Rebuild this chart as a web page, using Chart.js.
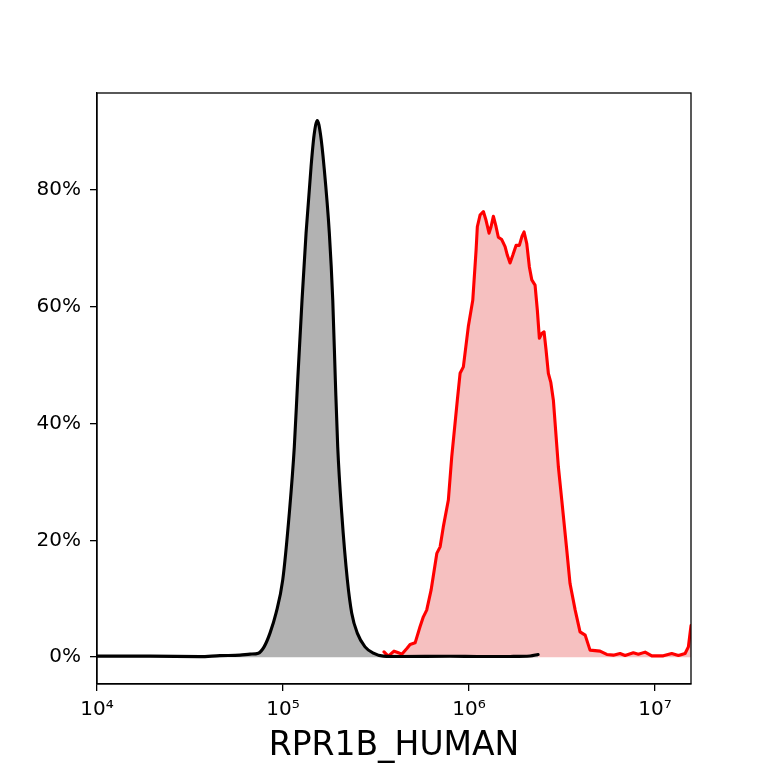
<!DOCTYPE html>
<html>
<head>
<meta charset="utf-8">
<script src="https://cdn.jsdelivr.net/npm/chart.js@4"></script>
<style>
  body { margin: 0; background: #fff; }
  #wrap { width: 768px; height: 768px; }
</style>
</head>
<body>
<div id="wrap"><canvas id="hist"></canvas></div>
<script>
// control (gray) histogram
var grayX = [1.0e4, 1.93e4, 3.58e4, 4.58e4, 5.87e4, 6.65e4, 7.37e4, 7.91e4, 8.51e4, 9.17e4,
  9.96e4, 1.081e5, 1.150e5, 1.199e5, 1.265e5, 1.330e5, 1.415e5, 1.469e5, 1.528e5, 1.592e5,
  1.661e5, 1.774e5, 1.851e5, 1.911e5, 1.968e5, 2.068e5, 2.218e5, 2.341e5, 2.508e5, 2.760e5,
  3.060e5, 3.462e5, 4.26e5, 7.90e5, 1.146e6, 1.661e6, 2.13e6, 2.35e6];
var grayY = [0.17, 0.17, 0.09, 0.26, 0.34, 0.51, 0.68, 1.76, 4.11, 7.53,
  13.18, 24.66, 36.0, 47.4, 61.1, 72.6, 84.0, 89.4, 91.9, 89.4,
  84.0, 72.6, 61.1, 47.4, 36.0, 24.66, 13.18, 7.53, 4.11, 1.76,
  0.68, 0.17, 0.1, 0.15, 0.1, 0.12, 0.2, 0.45];

// sample (red) histogram
var redX = [3.49e5, 3.68e5, 3.95e5, 4.17e5, 4.35e5, 4.63e5, 4.82e5, 5.13e5, 5.45e5, 5.68e5,
  5.92e5, 6.25e5, 6.71e5, 6.99e5, 7.27e5, 7.74e5, 8.07e5, 8.65e5, 8.95e5, 9.32e5,
  9.91e5, 1.047e6, 1.091e6, 1.108e6, 1.146e6, 1.194e6, 1.234e6, 1.281e6, 1.313e6, 1.351e6,
  1.397e6, 1.437e6, 1.499e6, 1.562e6, 1.607e6, 1.661e6, 1.718e6, 1.789e6, 1.864e6, 1.927e6,
  1.976e6, 2.043e6, 2.110e6, 2.174e6, 2.264e6, 2.329e6, 2.388e6, 2.460e6, 2.531e6, 2.594e6,
  2.669e6, 2.749e6, 2.840e6, 3.021e6, 3.151e6, 3.353e6, 3.49e6, 3.72e6, 3.95e6, 4.21e6,
  4.47e6, 5.06e6, 5.50e6, 5.97e6, 6.48e6, 6.90e6, 7.64e6, 8.13e6, 8.84e6, 9.60e6,
  1.108e7, 1.229e7, 1.335e7, 1.450e7, 1.510e7, 1.56e7];
var redY = [0.9, 0.17, 1.03, 0.74, 0.51, 1.49, 2.17, 2.45, 5.19, 6.9,
  8.05, 11.47, 17.76, 18.89, 22.3, 26.9, 34.3, 44.0, 48.6, 49.7,
  56.6, 61.1, 69.7, 73.7, 75.7, 76.3, 74.8, 72.6, 73.7, 75.5,
  73.7, 71.9, 71.5, 70.3, 68.8, 67.5, 68.8, 70.5, 70.5, 72.1,
  72.8, 70.8, 66.8, 64.6, 63.7, 59.4, 54.6, 55.4, 55.7, 52.6,
  48.6, 47.1, 44.0, 32.6, 26.9, 18.3, 12.6, 8.05, 4.33, 3.77,
  1.2, 1.03, 0.46, 0.34, 0.63, 0.29, 0.74, 0.51, 0.86, 0.22,
  0.22, 0.63, 0.29, 0.63, 1.76, 5.4];

var xTicks = [1e4, 1e5, 1e6, 1e7];
var yTicks = [0, 20, 40, 60, 80];
var xTitle = 'RPR1B_HUMAN';

var SUP = {'4': '\u2074', '5': '\u2075', '6': '\u2076', '7': '\u2077'};

function toPoints(xs, ys) {
  return xs.map(function(x, i) { return {x: x, y: ys[i]}; });
}

// box round the plot area, like a matplotlib frame
var frame = {
  id: 'frame',
  afterDatasetsDraw: function(chart) {
    var a = chart.chartArea, ctx = chart.ctx;
    ctx.save();
    ctx.strokeStyle = '#000';
    ctx.lineWidth = 1.3;
    ctx.strokeRect(a.left, a.top, a.right - a.left, a.bottom - a.top);
    ctx.restore();
  }
};

var font = 'DejaVu Sans';

new Chart(document.getElementById('hist'), {
  type: 'scatter',
  data: {
    datasets: [
      {
        label: 'control',
        data: toPoints(grayX, grayY),
        showLine: true,
        borderColor: '#000',
        borderWidth: 3.1,
        borderJoinStyle: 'round',
        borderCapStyle: 'round',
        backgroundColor: '#b2b2b2',
        fill: 'origin',
        pointRadius: 0,
        cubicInterpolationMode: 'monotone',
        order: 0
      },
      {
        label: 'sample',
        data: toPoints(redX, redY),
        showLine: true,
        borderColor: '#ff0000',
        borderWidth: 3.1,
        borderJoinStyle: 'round',
        borderCapStyle: 'round',
        backgroundColor: 'rgb(246,192,192)',
        fill: 'origin',
        pointRadius: 0,
        tension: 0,
        order: 1
      }
    ]
  },
  options: {
    responsive: true,
    maintainAspectRatio: false,
    animation: false,
    layout: { padding: { top: 93, right: 77, left: 0, bottom: 0 } },
    plugins: {
      legend: { display: false },
      tooltip: { enabled: false }
    },
    scales: {
      x: {
        type: 'logarithmic',
        min: 1e4,
        max: 1.56e7,
        afterBuildTicks: function(s) {
          s.ticks = xTicks.map(function(v) { return {value: v}; });
        },
        afterFit: function(s) { s.height = 84; },
        ticks: {
          color: '#000',
          font: { family: font, size: 20 },
          padding: 7,
          maxRotation: 0,
          autoSkip: false,
          callback: function(v) {
            var e = String(Math.round(Math.log10(v)));
            return '10' + SUP[e];
          }
        },
        grid: { drawOnChartArea: false, drawTicks: true, tickLength: 7, color: '#000', lineWidth: 1.3 },
        border: { display: true, color: '#000', width: 1.3 },
        title: {
          display: true,
          text: xTitle,
          color: '#000',
          font: { family: font, size: 33 },
          padding: { top: 0, bottom: 2 }
        }
      },
      y: {
        type: 'linear',
        min: -4.6,
        max: 96.6,
        afterBuildTicks: function(s) {
          s.ticks = yTicks.map(function(v) { return {value: v}; });
        },
        afterFit: function(s) { s.width = 97; },
        ticks: {
          color: '#000',
          font: { family: font, size: 20 },
          padding: 9,
          callback: function(v) { return v + '%'; }
        },
        grid: { drawOnChartArea: false, drawTicks: true, tickLength: 7, color: '#000', lineWidth: 1.3 },
        border: { display: true, color: '#000', width: 1.3 }
      }
    }
  },
  plugins: [frame]
});
</script>
</body>
</html>
